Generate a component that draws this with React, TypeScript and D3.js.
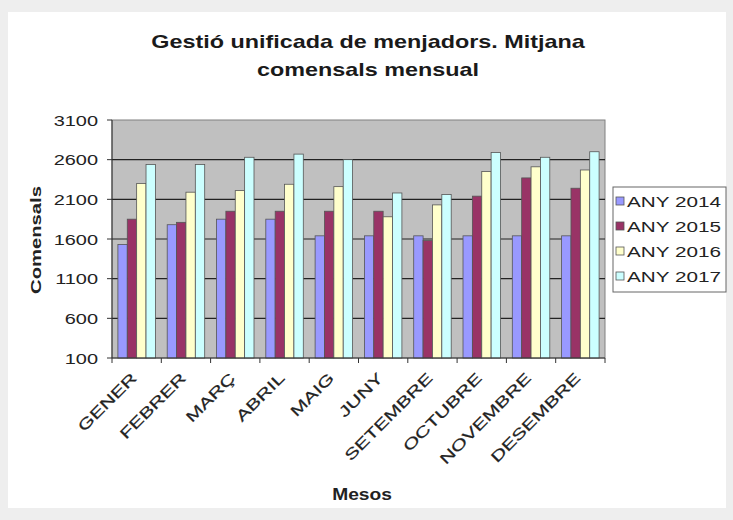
import React from "react";
import * as d3 from "d3";

const months = ["GENER", "FEBRER", "MARÇ", "ABRIL", "MAIG", "JUNY", "SETEMBRE", "OCTUBRE", "NOVEMBRE", "DESEMBRE"];
const seriesNames = ["ANY 2014", "ANY 2015", "ANY 2016", "ANY 2017"];
const any2014 = [1530, 1780, 1850, 1850, 1640, 1640, 1640, 1640, 1640, 1640];
const any2015 = [1850, 1810, 1950, 1950, 1950, 1950, 1580, 2140, 2370, 2240];
const any2016 = [2300, 2190, 2210, 2290, 2260, 1880, 2030, 2450, 2510, 2470];
const any2017 = [2540, 2540, 2630, 2670, 2600, 2180, 2160, 2690, 2630, 2700];
const yTicks = [100, 600, 1100, 1600, 2100, 2600, 3100];
const colors = ["#9999FF", "#993366", "#FFFFCC", "#CCFFFF"];

const W = 733, H = 520;
const plot = { left: 112, right: 605, top: 120, bottom: 358 };
const FONT = "'Liberation Sans', Arial, sans-serif";

export default function App() {
  const series = [any2014, any2015, any2016, any2017];
  const x = d3.scaleBand<string>().domain(months).range([plot.left, plot.right]).paddingInner(0).paddingOuter(0);
  const inner = d3.scaleBand<number>().domain([0, 1, 2, 3]).range([0, x.bandwidth()]).paddingInner(0).paddingOuter(0.63);
  const y = d3.scaleLinear().domain([100, 3100]).range([plot.bottom, plot.top]);

  return (
    <svg width={W} height={H} style={{ position: "absolute", left: 0, top: 0 }}>
      <rect x={0} y={0} width={W} height={H} fill="#eeeeee" />
      <rect x={8} y={12} width={718} height={496} fill="#ffffff" />
      <rect x={plot.left} y={plot.top} width={plot.right - plot.left} height={plot.bottom - plot.top} fill="#c0c0c0" stroke="#808080" strokeWidth={1} />
      {yTicks.map((t) => (
        <g key={t}>
          {t !== 100 && t !== 3100 && (
            <line x1={plot.left} x2={plot.right} y1={y(t)} y2={y(t)} stroke="#222" strokeWidth={1.2} />
          )}
          <line x1={plot.left - 5} x2={plot.left} y1={y(t)} y2={y(t)} stroke="#333" strokeWidth={1} />
          <g transform={`translate(${plot.left - 14},${y(t) + 5.5}) scale(1.33,1)`}>
            <text textAnchor="end" fontFamily={FONT} fontSize={15} fill="#222">{t}</text>
          </g>
        </g>
      ))}
      {months.map((m, i) => (
        <g key={m}>
          {series.map((s, k) => (
            <rect key={k} x={(x(m) as number) + (inner(k) as number)} y={y(s[i])} width={inner.bandwidth()} height={plot.bottom - y(s[i])} fill={colors[k]} stroke="#555" strokeWidth={0.8} />
          ))}
        </g>
      ))}
      <line x1={plot.left} x2={plot.left} y1={plot.top} y2={plot.bottom} stroke="#333" strokeWidth={1} />
      <line x1={plot.left} x2={plot.right} y1={plot.bottom} y2={plot.bottom} stroke="#333" strokeWidth={1} />
      {d3.range(months.length + 1).map((i) => {
        const xx = plot.left + i * x.bandwidth();
        return <line key={i} x1={xx} x2={xx} y1={plot.bottom} y2={plot.bottom + 5} stroke="#333" strokeWidth={1} />;
      })}
      {months.map((m) => {
        const cx = (x(m) as number) + x.bandwidth() / 2 + 1;
        return (
          <g key={m} transform={`translate(${cx},${plot.bottom + 21}) rotate(-45) scale(1.42,1)`}>
            <text textAnchor="end" fontFamily={FONT} fontSize={15} fill="#222" stroke="#222" strokeWidth={0.2}>{m}</text>
          </g>
        );
      })}
      <g transform={`translate(368,48) scale(1.23,1)`}>
        <text textAnchor="middle" fontFamily={FONT} fontWeight="bold" fontSize={19} fill="#1a1a1a">Gestió unificada de menjadors. Mitjana</text>
      </g>
      <g transform={`translate(368,76) scale(1.23,1)`}>
        <text textAnchor="middle" fontFamily={FONT} fontWeight="bold" fontSize={19} fill="#1a1a1a">comensals mensual</text>
      </g>
      <g transform={`translate(41,240) rotate(-90) scale(1.35,1)`}>
        <text textAnchor="middle" fontFamily={FONT} fontWeight="bold" fontSize={15} fill="#222">Comensals</text>
      </g>
      <g transform={`translate(362,500) scale(1.2,1)`}>
        <text textAnchor="middle" fontFamily={FONT} fontWeight="bold" fontSize={16} fill="#222">Mesos</text>
      </g>
      <rect x={613} y={187} width={113} height={105} fill="#fff" stroke="#666" strokeWidth={1} />
      {seriesNames.map((n, k) => (
        <g key={n}>
          <rect x={616} y={197 + k * 25} width={8} height={8} fill={colors[k]} stroke="#555" strokeWidth={0.8} />
          <g transform={`translate(627,${207 + k * 25}) scale(1.38,1)`}>
            <text fontFamily={FONT} fontSize={15} fill="#222">{n}</text>
          </g>
        </g>
      ))}
    </svg>
  );
}
